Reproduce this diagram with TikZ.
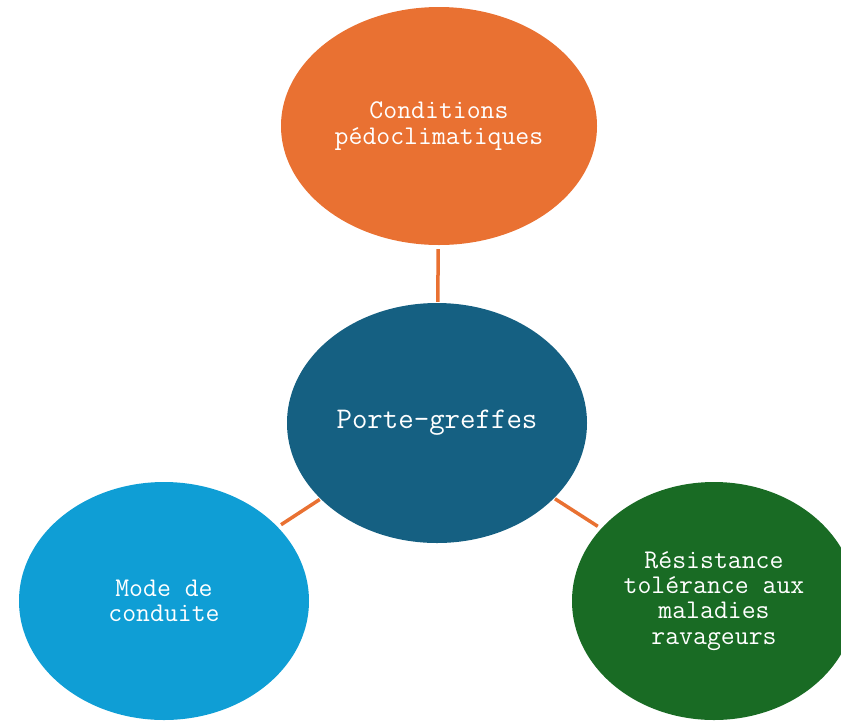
\documentclass[tikz,border=0pt]{standalone}
\usepackage{fontspec}
\usepackage{xcolor}
\usepackage{tikz}
\usetikzlibrary{shapes.geometric}

\definecolor{soilorange}{HTML}{E97132}
\definecolor{rootblue}{HTML}{156082}
\definecolor{leafblue}{HTML}{0F9ED5}
\definecolor{pestgreen}{HTML}{196B24}

\begin{document}
\begin{tikzpicture}[
    x=1pt, y=-1pt,
    bubble/.style={ellipse, fill=#1, inner sep=0pt, align=center, text=white,
      font=\ttfamily\fontsize{27}{25.3}\selectfont},
    link/.style={draw=soilorange, line width=3.5pt, shorten <=1pt, shorten >=4pt}
  ]
    \useasboundingbox (0,0) rectangle (841,721);
    \clip (0,0) rectangle (841,721);
    \node[bubble=rootblue, minimum width=300pt, minimum height=240pt,
      font=\ttfamily\fontsize{30}{28}\selectfont] (pg) at (437,423) {Porte-greffes};
    \node[bubble=soilorange, minimum width=316pt, minimum height=238pt] (sol) at (439,126) {Conditions\\pédoclimatiques};
    \node[bubble=leafblue, minimum width=290pt, minimum height=238pt] (mode) at (164,601) {Mode de\\conduite};
    \node[bubble=pestgreen, minimum width=284pt, minimum height=238pt] (res) at (714,601) {Résistance\\tolérance aux\\maladies\\ravageurs};
    \draw[link] (pg) -- (sol);
    \draw[link] (pg) -- (mode);
    \draw[link] (pg) -- (res);
  \end{tikzpicture}
\end{document}
